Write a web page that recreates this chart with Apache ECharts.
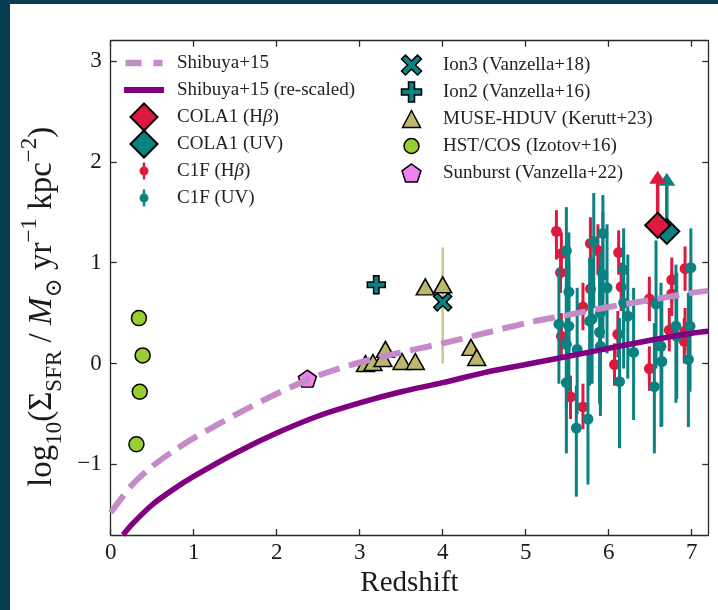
<!DOCTYPE html>
<html>
<head>
<meta charset="utf-8">
<script src="https://cdn.jsdelivr.net/npm/echarts@6/dist/echarts.min.js"></script>
<style>
  html, body { margin: 0; padding: 0; background: #ffffff; }
  #chart { width: 718px; height: 610px; }
</style>
</head>
<body>
<div id="chart"></div>
<script>
// ---- axis ticks ----
const xTicks = [0, 1, 2, 3, 4, 5, 6, 7];
const yTicks = [-1, 0, 1, 2, 3];

// ---- Shibuya+15 relation, sampled along redshift ----
const shibuyaZ = [0, 0.25, 0.5, 0.75, 1, 1.5, 2, 2.5, 3, 3.5, 4, 4.5, 5, 5.5, 6, 6.5, 7, 7.2];
const shibuyaLog = [-1.48, -1.21, -1.02, -0.87, -0.74, -0.51, -0.30, -0.12, 0.01, 0.11, 0.20, 0.30, 0.40, 0.48, 0.56, 0.63, 0.70, 0.72];
const rescaledZ = [0.15, 0.25, 0.5, 0.75, 1, 1.5, 2, 2.5, 3, 3.5, 4, 4.5, 5, 5.5, 6, 6.5, 7, 7.2];
const rescaledLog = [-1.70, -1.60, -1.40, -1.25, -1.12, -0.89, -0.69, -0.52, -0.39, -0.28, -0.19, -0.09, -0.01, 0.07, 0.15, 0.23, 0.30, 0.32];

// ---- COLA1 lower limits: [z, value, arrow tip] ----
const cola1Hb = [[6.59, 1.37, 1.91]];
const cola1UV = [[6.70, 1.31, 1.89]];

// ---- C1F galaxies: [z, value, lower, upper] ----
const c1fHb = [
  [5.37, 1.31, 1.03, 1.52], [5.43, 1.09, 0.88, 1.30], [5.42, 0.90, 0.70, 1.12],
  [5.43, 0.27, 0.05, 0.50], [5.54, -0.33, -0.55, -0.12], [5.69, 0.56, 0.33, 0.80],
  [5.69, -0.43, -0.65, -0.20], [5.78, 1.19, 0.95, 1.45], [5.78, 0.74, 0.50, 1.00],
  [5.87, 1.12, 0.88, 1.38], [6.12, 1.10, 0.88, 1.32], [6.15, 0.76, 0.52, 1.00],
  [6.11, 0.29, 0.06, 0.52], [6.07, -0.01, -0.22, 0.20], [6.49, 0.64, 0.42, 0.86],
  [6.49, -0.05, -0.27, 0.17], [6.76, 0.83, 0.60, 1.05], [6.76, 0.69, 0.47, 0.92],
  [6.73, 0.33, 0.12, 0.55], [6.91, 0.22, 0.00, 0.45], [6.92, 0.94, 0.72, 1.16],
  [6.92, 0.32, 0.10, 0.55]
];
const c1fUV = [
  [5.40, 0.39, -0.20, 0.95], [5.49, 1.12, 0.45, 1.55], [5.52, 0.71, 0.05, 1.30],
  [5.49, 0.19, -0.45, 0.80], [5.49, -0.19, -0.89, 0.45], [5.61, -0.64, -1.32, -0.22],
  [5.62, 0.14, -0.50, 0.75], [5.52, 0.37, -0.28, 1.00], [5.75, -0.55, -1.20, 0.10],
  [5.77, 0.42, -0.22, 1.05], [5.82, 1.21, 0.55, 1.69], [5.93, 1.29, 0.62, 1.67],
  [5.93, 0.88, 0.25, 1.50], [5.98, 0.75, 0.10, 1.38], [5.80, 0.44, -0.20, 1.05],
  [5.90, 0.50, -0.52, 1.10], [5.89, 0.31, -0.40, 0.95], [5.90, 0.17, -0.45, 0.80],
  [6.18, 0.93, 0.30, 1.34], [6.18, 0.60, -0.05, 1.20], [6.23, 0.47, -0.15, 1.08],
  [6.30, 0.11, -0.56, 0.75], [6.13, -0.18, -0.84, 0.45], [6.55, -0.23, -0.89, 0.40],
  [6.63, 0.17, -0.63, 0.80], [6.64, 0.02, -0.62, 0.65], [6.57, 0.59, -0.05, 1.22],
  [6.81, 0.37, -0.39, 0.98], [6.82, 0.27, -0.35, 0.90], [6.98, 0.37, -0.28, 1.00],
  [6.96, 0.04, -0.63, 0.70], [6.99, 0.95, 0.35, 1.34]
];

// ---- comparison samples ----
const ion3 = [[4.00, 0.61]];
const ion2 = [[3.20, 0.78]];
const museZ = [3.07, 3.16, 3.28, 3.31, 3.51, 3.67, 3.79, 4.00, 4.34, 4.41];
const museLog = [0.00, 0.01, 0.05, 0.14, 0.02, 0.02, 0.76, 0.78, 0.16, 0.06];
const museErr = [[4.00, 0.78, 0.00, 1.15]];
const hstZ = [0.34, 0.385, 0.35, 0.31];
const hstLog = [0.45, 0.08, -0.28, -0.80];
const sunburst = [[2.37, -0.15]];

// ---- colours ----
const RED = '#dc1a40';
const TEAL = '#0b8282';
const PURPLE = '#800080';
const LILAC = '#c48bc8';
const KHAKI = '#bdb76b';
const KHAKI_BAR = '#cbc68a';
const GREEN = '#9acd32';
const VIOLET = '#ee82ee';
const SERIF = '"Liberation Serif", "DejaVu Serif", serif';

// ---- marker shapes ----
const ICON_DASH = 'path://M0 0H16V6.5H0Z M28 0H37V6.5H28Z';
const ICON_SOLID = 'path://M0 0H40V6H0Z';
const ICON_DIAMOND = 'path://M13.5 0L27 13.5L13.5 27L0 13.5Z';
const ICON_ERRDOT = 'path://M3.3 0H5.7V17H3.3Z M0 8.5A4.5 4.5 0 1 1 9 8.5A4.5 4.5 0 1 1 0 8.5Z';
const ICON_X = 'path://M4 0L10 6L16 0L20 4L14 10L20 16L16 20L10 14L4 20L0 16L6 10L0 4Z';
const ICON_PLUS = 'path://M7 0H13V7H20V13H13V20H7V13H0V7H7Z';
const ICON_TRI = 'path://M9 0L18 17H0Z';
const ICON_CIRCLE = 'path://M0 7.5A7.5 7.5 0 1 1 15 7.5A7.5 7.5 0 1 1 0 7.5Z';
const ICON_PENT = 'path://M10 0L19.51 6.91L15.88 18.09L4.12 18.09L0.49 6.91Z';

const zip = (a, b) => a.map((v, i) => [v, b[i]]);

function errorBarItem(color, barWidth, dotRadius) {
  return function (params, api) {
    const x = api.value(0);
    const c = api.coord([x, api.value(1)]);
    const lo = api.coord([x, api.value(2)]);
    const hi = api.coord([x, api.value(3)]);
    const children = [{
      type: 'line',
      shape: { x1: lo[0], y1: lo[1], x2: hi[0], y2: hi[1] },
      style: { stroke: color, lineWidth: barWidth }
    }];
    if (dotRadius > 0) {
      children.push({ type: 'circle', shape: { cx: c[0], cy: c[1], r: dotRadius }, style: { fill: color } });
    }
    return { type: 'group', children };
  };
}

function lowerLimitArrow(color) {
  return function (params, api) {
    const x = api.value(0);
    const base = api.coord([x, api.value(1)]);
    const tip = api.coord([x, api.value(2)]);
    const headH = 13, headW = 8.5;
    return {
      type: 'group',
      children: [
        { type: 'line', shape: { x1: base[0], y1: base[1], x2: tip[0], y2: tip[1] + headH - 1 },
          style: { stroke: color, lineWidth: 3.5 } },
        { type: 'polygon', shape: { points: [[tip[0], tip[1]], [tip[0] - headW, tip[1] + headH], [tip[0] + headW, tip[1] + headH]] },
          style: { fill: color } }
      ]
    };
  };
}

// ---- legend, one block per row; w is the drawn icon width ----
const legendRows = [
  { name: 'Shibuya+15', icon: ICON_DASH, col: 0, row: 0, w: 37, h: 6.5, bw: 0 },
  { name: 'Shibuya+15 (re-scaled)', icon: ICON_SOLID, col: 0, row: 1, w: 40, h: 6, bw: 0 },
  { name: 'COLA1 (Hβ)', icon: ICON_DIAMOND, col: 0, row: 2, w: 27, h: 27, bw: 2 },
  { name: 'COLA1 (UV)', icon: ICON_DIAMOND, col: 0, row: 3, w: 27, h: 27, bw: 2 },
  { name: 'C1F (Hβ)', icon: ICON_ERRDOT, col: 0, row: 4, w: 9, h: 17, bw: 0 },
  { name: 'C1F (UV)', icon: ICON_ERRDOT, col: 0, row: 5, w: 9, h: 17, bw: 0 },
  { name: 'Ion3 (Vanzella+18)', icon: ICON_X, col: 1, row: 0, w: 20, h: 20, bw: 1.5 },
  { name: 'Ion2 (Vanzella+16)', icon: ICON_PLUS, col: 1, row: 1, w: 20, h: 20, bw: 1.5 },
  { name: 'MUSE-HDUV (Kerutt+23)', icon: ICON_TRI, col: 1, row: 2, w: 18, h: 17, bw: 1.5 },
  { name: 'HST/COS (Izotov+16)', icon: ICON_CIRCLE, col: 1, row: 3, w: 15, h: 15, bw: 1.5 },
  { name: 'Sunburst (Vanzella+22)', icon: ICON_PENT, col: 1, row: 4, w: 19, h: 18, bw: 1.5 }
];
const legendCols = [
  { cx: 144, width: 56, firstY: 63 },
  { cx: 411.5, width: 53, firstY: 65 }
];
const ROW_STEP = 27;
const LEGEND_LH = 26;

const legends = legendRows.map(r => {
  const col = legendCols[r.col];
  const cy = col.firstY + r.row * ROW_STEP;
  const boxH = Math.max(r.h + r.bw, LEGEND_LH);
  return {
    left: col.cx - r.w / 2 - r.bw / 2,
    top: cy - boxH / 2,
    padding: 0,
    itemWidth: col.width,
    itemHeight: r.h,
    icon: r.icon,
    symbolKeepAspect: true,
    itemStyle: r.bw > 0 ? { borderColor: '#000', borderWidth: r.bw } : { borderWidth: 0 },
    data: [{ name: r.name, icon: r.icon }],
    formatter: n => n.replace('β', '{b|β}'),
    textStyle: {
      fontFamily: SERIF, fontSize: 19, color: '#222', lineHeight: LEGEND_LH,
      rich: { b: { fontFamily: SERIF, fontStyle: 'italic', fontSize: 19, color: '#222', lineHeight: LEGEND_LH } }
    }
  };
});

const axisLineStyle = { color: '#2a2a2a', width: 1.3 };
const tickLabel = { fontFamily: SERIF, fontSize: 23, color: '#1a1a1a' };
const minus = v => (v < 0 ? '\u2212' + Math.abs(v) : String(v));

const chart = echarts.init(document.getElementById('chart'), null, { renderer: 'canvas' });
chart.setOption({
  animation: false,
  backgroundColor: '#ffffff',
  graphic: [
    { type: 'rect', left: 0, top: 0, shape: { width: 10, height: 610 }, style: { fill: '#083c50' }, silent: true },
    { type: 'rect', left: 0, top: 0, shape: { width: 718, height: 4 }, style: { fill: '#083c50' }, silent: true }
  ],
  grid: { left: 110.7, right: 9.7, top: 40.7, bottom: 75, containLabel: false },
  legend: legends,
  xAxis: [
    {
      type: 'value', min: 0, max: 7.2, position: 'bottom',
      axisLine: { show: true, onZero: false, lineStyle: axisLineStyle },
      axisTick: { show: true, inside: true, length: 6, customValues: xTicks, lineStyle: axisLineStyle },
      axisLabel: { customValues: xTicks, margin: 6, formatter: minus, ...tickLabel },
      splitLine: { show: false },
      name: 'Redshift', nameLocation: 'middle', nameGap: 33,
      nameTextStyle: { fontFamily: SERIF, fontSize: 29, color: '#1a1a1a' }
    },
    {
      type: 'value', min: 0, max: 7.2, position: 'top',
      axisLine: { show: true, onZero: false, lineStyle: axisLineStyle },
      axisTick: { show: true, inside: true, length: 6, customValues: xTicks, lineStyle: axisLineStyle },
      axisLabel: { show: false },
      splitLine: { show: false }
    }
  ],
  yAxis: [
    {
      type: 'value', min: -1.7, max: 3.2, position: 'left',
      axisLine: { show: true, onZero: false, lineStyle: axisLineStyle },
      axisTick: { show: true, inside: true, length: 6, customValues: yTicks, lineStyle: axisLineStyle },
      axisLabel: { customValues: yTicks, margin: 9, formatter: minus, ...tickLabel },
      splitLine: { show: false },
      name: '{n|log}{s|10}{n|(Σ}{s|SFR}{n| / }{i|M}{s|⊙}{n| yr}{p|−1}{n| kpc}{p|−2}{n|)}',
      nameLocation: 'middle', nameRotate: 90, nameGap: 40,
      nameTextStyle: {
        padding: [0, 38, 0, 0],
        rich: {
          n: { fontFamily: SERIF, fontSize: 33, color: '#1a1a1a', lineHeight: 48, verticalAlign: 'middle' },
          i: { fontFamily: SERIF, fontSize: 33, fontStyle: 'italic', color: '#1a1a1a', lineHeight: 48, verticalAlign: 'middle' },
          s: { fontFamily: SERIF, fontSize: 23, color: '#1a1a1a', lineHeight: 32, verticalAlign: 'bottom' },
          p: { fontFamily: SERIF, fontSize: 23, color: '#1a1a1a', lineHeight: 31, verticalAlign: 'top' }
        }
      }
    },
    {
      type: 'value', min: -1.7, max: 3.2, position: 'right',
      axisLine: { show: true, onZero: false, lineStyle: axisLineStyle },
      axisTick: { show: true, inside: true, length: 6, customValues: yTicks, lineStyle: axisLineStyle },
      axisLabel: { show: false },
      splitLine: { show: false }
    }
  ],
  series: [
    {
      name: 'Shibuya+15', type: 'line', data: zip(shibuyaZ, shibuyaLog), smooth: 0.3,
      showSymbol: false, symbol: 'none', color: LILAC,
      lineStyle: { color: LILAC, width: 6, type: [22, 9.6] }
    },
    {
      name: 'Shibuya+15 (re-scaled)', type: 'line', data: zip(rescaledZ, rescaledLog), smooth: 0.3,
      showSymbol: false, symbol: 'none', color: PURPLE,
      lineStyle: { color: PURPLE, width: 5.5 }
    },
    {
      name: 'C1F (Hβ)', type: 'custom', data: c1fHb, encode: { x: 0, y: [1, 2, 3] },
      itemStyle: { color: RED }, renderItem: errorBarItem(RED, 3, 5.5)
    },
    {
      name: 'C1F (UV)', type: 'custom', data: c1fUV, encode: { x: 0, y: [1, 2, 3] },
      itemStyle: { color: TEAL }, renderItem: errorBarItem(TEAL, 3, 5.5)
    },
    {
      name: 'COLA1 (UV)', type: 'custom', data: cola1UV, encode: { x: 0, y: [1, 2] },
      itemStyle: { color: TEAL }, renderItem: lowerLimitArrow(TEAL)
    },
    {
      name: 'COLA1 (UV)', type: 'scatter', data: cola1UV.map(d => [d[0], d[1]]),
      symbol: 'diamond', symbolSize: 25,
      itemStyle: { color: TEAL, borderColor: '#000', borderWidth: 2, opacity: 1 }
    },
    {
      name: 'COLA1 (Hβ)', type: 'custom', data: cola1Hb, encode: { x: 0, y: [1, 2] },
      itemStyle: { color: RED }, renderItem: lowerLimitArrow(RED)
    },
    {
      name: 'COLA1 (Hβ)', type: 'scatter', data: cola1Hb.map(d => [d[0], d[1]]),
      symbol: 'diamond', symbolSize: 25,
      itemStyle: { color: RED, borderColor: '#000', borderWidth: 2, opacity: 1 }
    },
    {
      name: 'MUSE-HDUV (Kerutt+23)', type: 'custom', data: museErr, encode: { x: 0, y: [1, 2, 3] },
      itemStyle: { color: KHAKI }, renderItem: errorBarItem(KHAKI_BAR, 2.5, 0)
    },
    {
      name: 'MUSE-HDUV (Kerutt+23)', type: 'scatter', data: zip(museZ, museLog),
      symbol: 'triangle', symbolSize: [18, 16],
      itemStyle: { color: KHAKI, borderColor: '#000', borderWidth: 1.5, opacity: 1 }
    },
    {
      name: 'HST/COS (Izotov+16)', type: 'scatter', data: zip(hstZ, hstLog),
      symbol: 'circle', symbolSize: 15,
      itemStyle: { color: GREEN, borderColor: '#000', borderWidth: 1.5, opacity: 1 }
    },
    {
      name: 'Sunburst (Vanzella+22)', type: 'scatter', data: sunburst,
      symbol: ICON_PENT, symbolSize: [18, 17],
      itemStyle: { color: VIOLET, borderColor: '#000', borderWidth: 1.5, opacity: 1 }
    },
    {
      name: 'Ion2 (Vanzella+16)', type: 'scatter', data: ion2,
      symbol: ICON_PLUS, symbolSize: 18,
      itemStyle: { color: TEAL, borderColor: '#000', borderWidth: 1.5, opacity: 1 }
    },
    {
      name: 'Ion3 (Vanzella+18)', type: 'scatter', data: ion3,
      symbol: ICON_X, symbolSize: 18,
      itemStyle: { color: TEAL, borderColor: '#000', borderWidth: 1.5, opacity: 1 }
    }
  ]
});
</script>
</body>
</html>
